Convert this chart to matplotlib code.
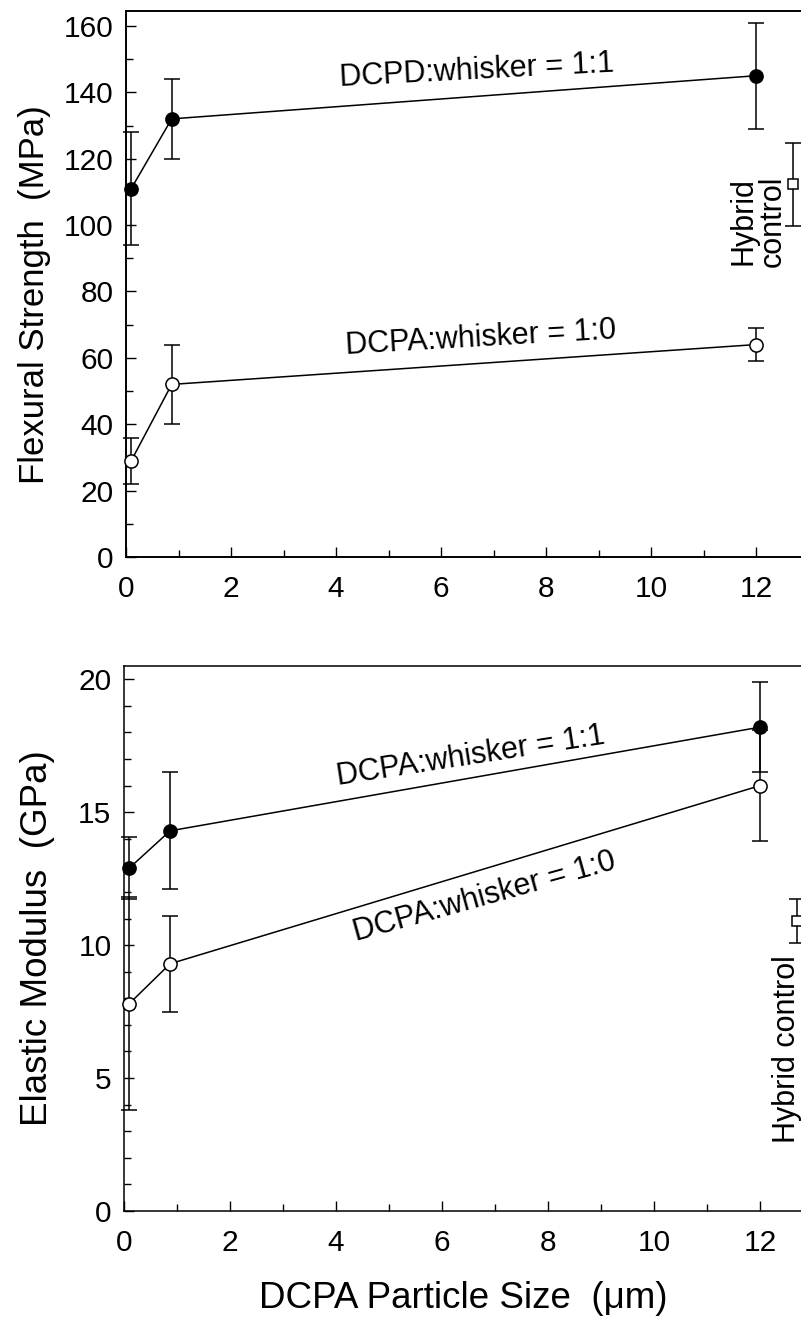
import matplotlib
matplotlib.use("Agg")
import matplotlib.pyplot as plt
from matplotlib.ticker import MultipleLocator

plt.rcParams['font.family'] = ['Liberation Sans', 'DejaVu Sans']

# DCPA particle size (um)
size_um = [0.1, 0.87, 12]

# flexural strength (MPa)
fs_11 = [111, 132, 145]
fs_11_err = [17, 12, 16]
fs_10 = [29, 52, 64]
fs_10_err = [7, 12, 5]
fs_ctrl = [112.3]
fs_ctrl_err = [12.5]

# elastic modulus (GPa)
em_11 = [12.9, 14.3, 18.2]
em_11_err = [1.15, 2.2, 1.7]
em_10 = [7.8, 9.3, 16.0]
em_10_err = [4.0, 1.8, 2.1]
em_ctrl = [10.9]
em_ctrl_err = [0.83]

ctrl_x = [12.7]


def draw_series(ax, x, y, err, filled, marker='o', ms=9.5, line=True):
    ax.errorbar(x, y, yerr=err, fmt='none', ecolor='black', elinewidth=1.1,
                capsize=6, capthick=1.1, zorder=2, clip_on=False)
    ax.plot(x, y, color='black', lw=1.1 if line else 0, marker=marker, ms=ms,
            mfc='black' if filled else 'white', mec='black', mew=1.1,
            zorder=3, clip_on=False)


def style_axes(ax, ymax, ymajor, yminor, spine_w):
    ax.set_xlim(0, 13.5)
    ax.set_ylim(0, ymax)
    ax.xaxis.set_major_locator(MultipleLocator(2))
    ax.xaxis.set_minor_locator(MultipleLocator(1))
    ax.yaxis.set_major_locator(MultipleLocator(ymajor))
    ax.yaxis.set_minor_locator(MultipleLocator(yminor))
    ax.tick_params(which='both', direction='in', top=False, right=False,
                   width=1.0, labelsize=21.5)
    ax.tick_params(which='major', length=7.5)
    ax.tick_params(which='minor', length=5)
    ax.tick_params(axis='x', pad=13)
    ax.tick_params(axis='y', pad=9)
    for s in ax.spines.values():
        s.set_linewidth(spine_w)
    ax.set_xticks([0, 2, 4, 6, 8, 10, 12])


fig = plt.figure(figsize=(8.01, 13.19), dpi=100)
ax1 = fig.add_axes([126 / 801, 1 - 557 / 1319, 708.75 / 801, 546 / 1319])
ax2 = fig.add_axes([124 / 801, 1 - 1211 / 1319, 715.5 / 801, 545 / 1319])

# top panel: flexural strength
draw_series(ax1, size_um, fs_11, fs_11_err, True)
draw_series(ax1, size_um, fs_10, fs_10_err, False)
draw_series(ax1, ctrl_x, fs_ctrl, fs_ctrl_err, False, marker='s', ms=7, line=False)
style_axes(ax1, 164.5, 20, 10, 1.4)
ax1.text(6.69, 146.4, "DCPD:whisker = 1:1", fontsize=22, rotation=3,
         ha='center', va='center', rotation_mode='anchor')
ax1.text(6.76, 66, "DCPA:whisker = 1:0", fontsize=22, rotation=3.3,
         ha='center', va='center', rotation_mode='anchor')
ax1.text(12.04, 101.2, "Hybrid\ncontrol", fontsize=22, rotation=90,
         ha='center', va='center', multialignment='center', linespacing=0.95)
ax1.set_ylabel("Flexural Strength  (MPa)", fontsize=25)
ax1.yaxis.set_label_coords(-0.106, 0.48)

# bottom panel: elastic modulus
draw_series(ax2, size_um, em_11, em_11_err, True)
draw_series(ax2, size_um, em_10, em_10_err, False)
draw_series(ax2, ctrl_x, em_ctrl, em_ctrl_err, False, marker='s', ms=7, line=False)
style_axes(ax2, 20.5, 5, 1, 1.1)
ax2.text(6.55, 17.1, "DCPA:whisker = 1:1", fontsize=22, rotation=8.8,
         ha='center', va='center', rotation_mode='anchor')
ax2.text(6.8, 11.8, "DCPA:whisker = 1:0", fontsize=22, rotation=15.5,
         ha='center', va='center', rotation_mode='anchor')
ax2.text(12.51, 6.1, "Hybrid control", fontsize=22, rotation=90,
         ha='center', va='center')
ax2.set_ylabel("Elastic Modulus  (GPa)", fontsize=26.5)
ax2.yaxis.set_label_coords(-0.0964, 0.5)
ax2.set_xlabel("DCPA Particle Size  (\u03bcm)", fontsize=26.5)
ax2.xaxis.set_label_coords(0.474, -0.128)

fig.savefig("out.png", dpi=100)
